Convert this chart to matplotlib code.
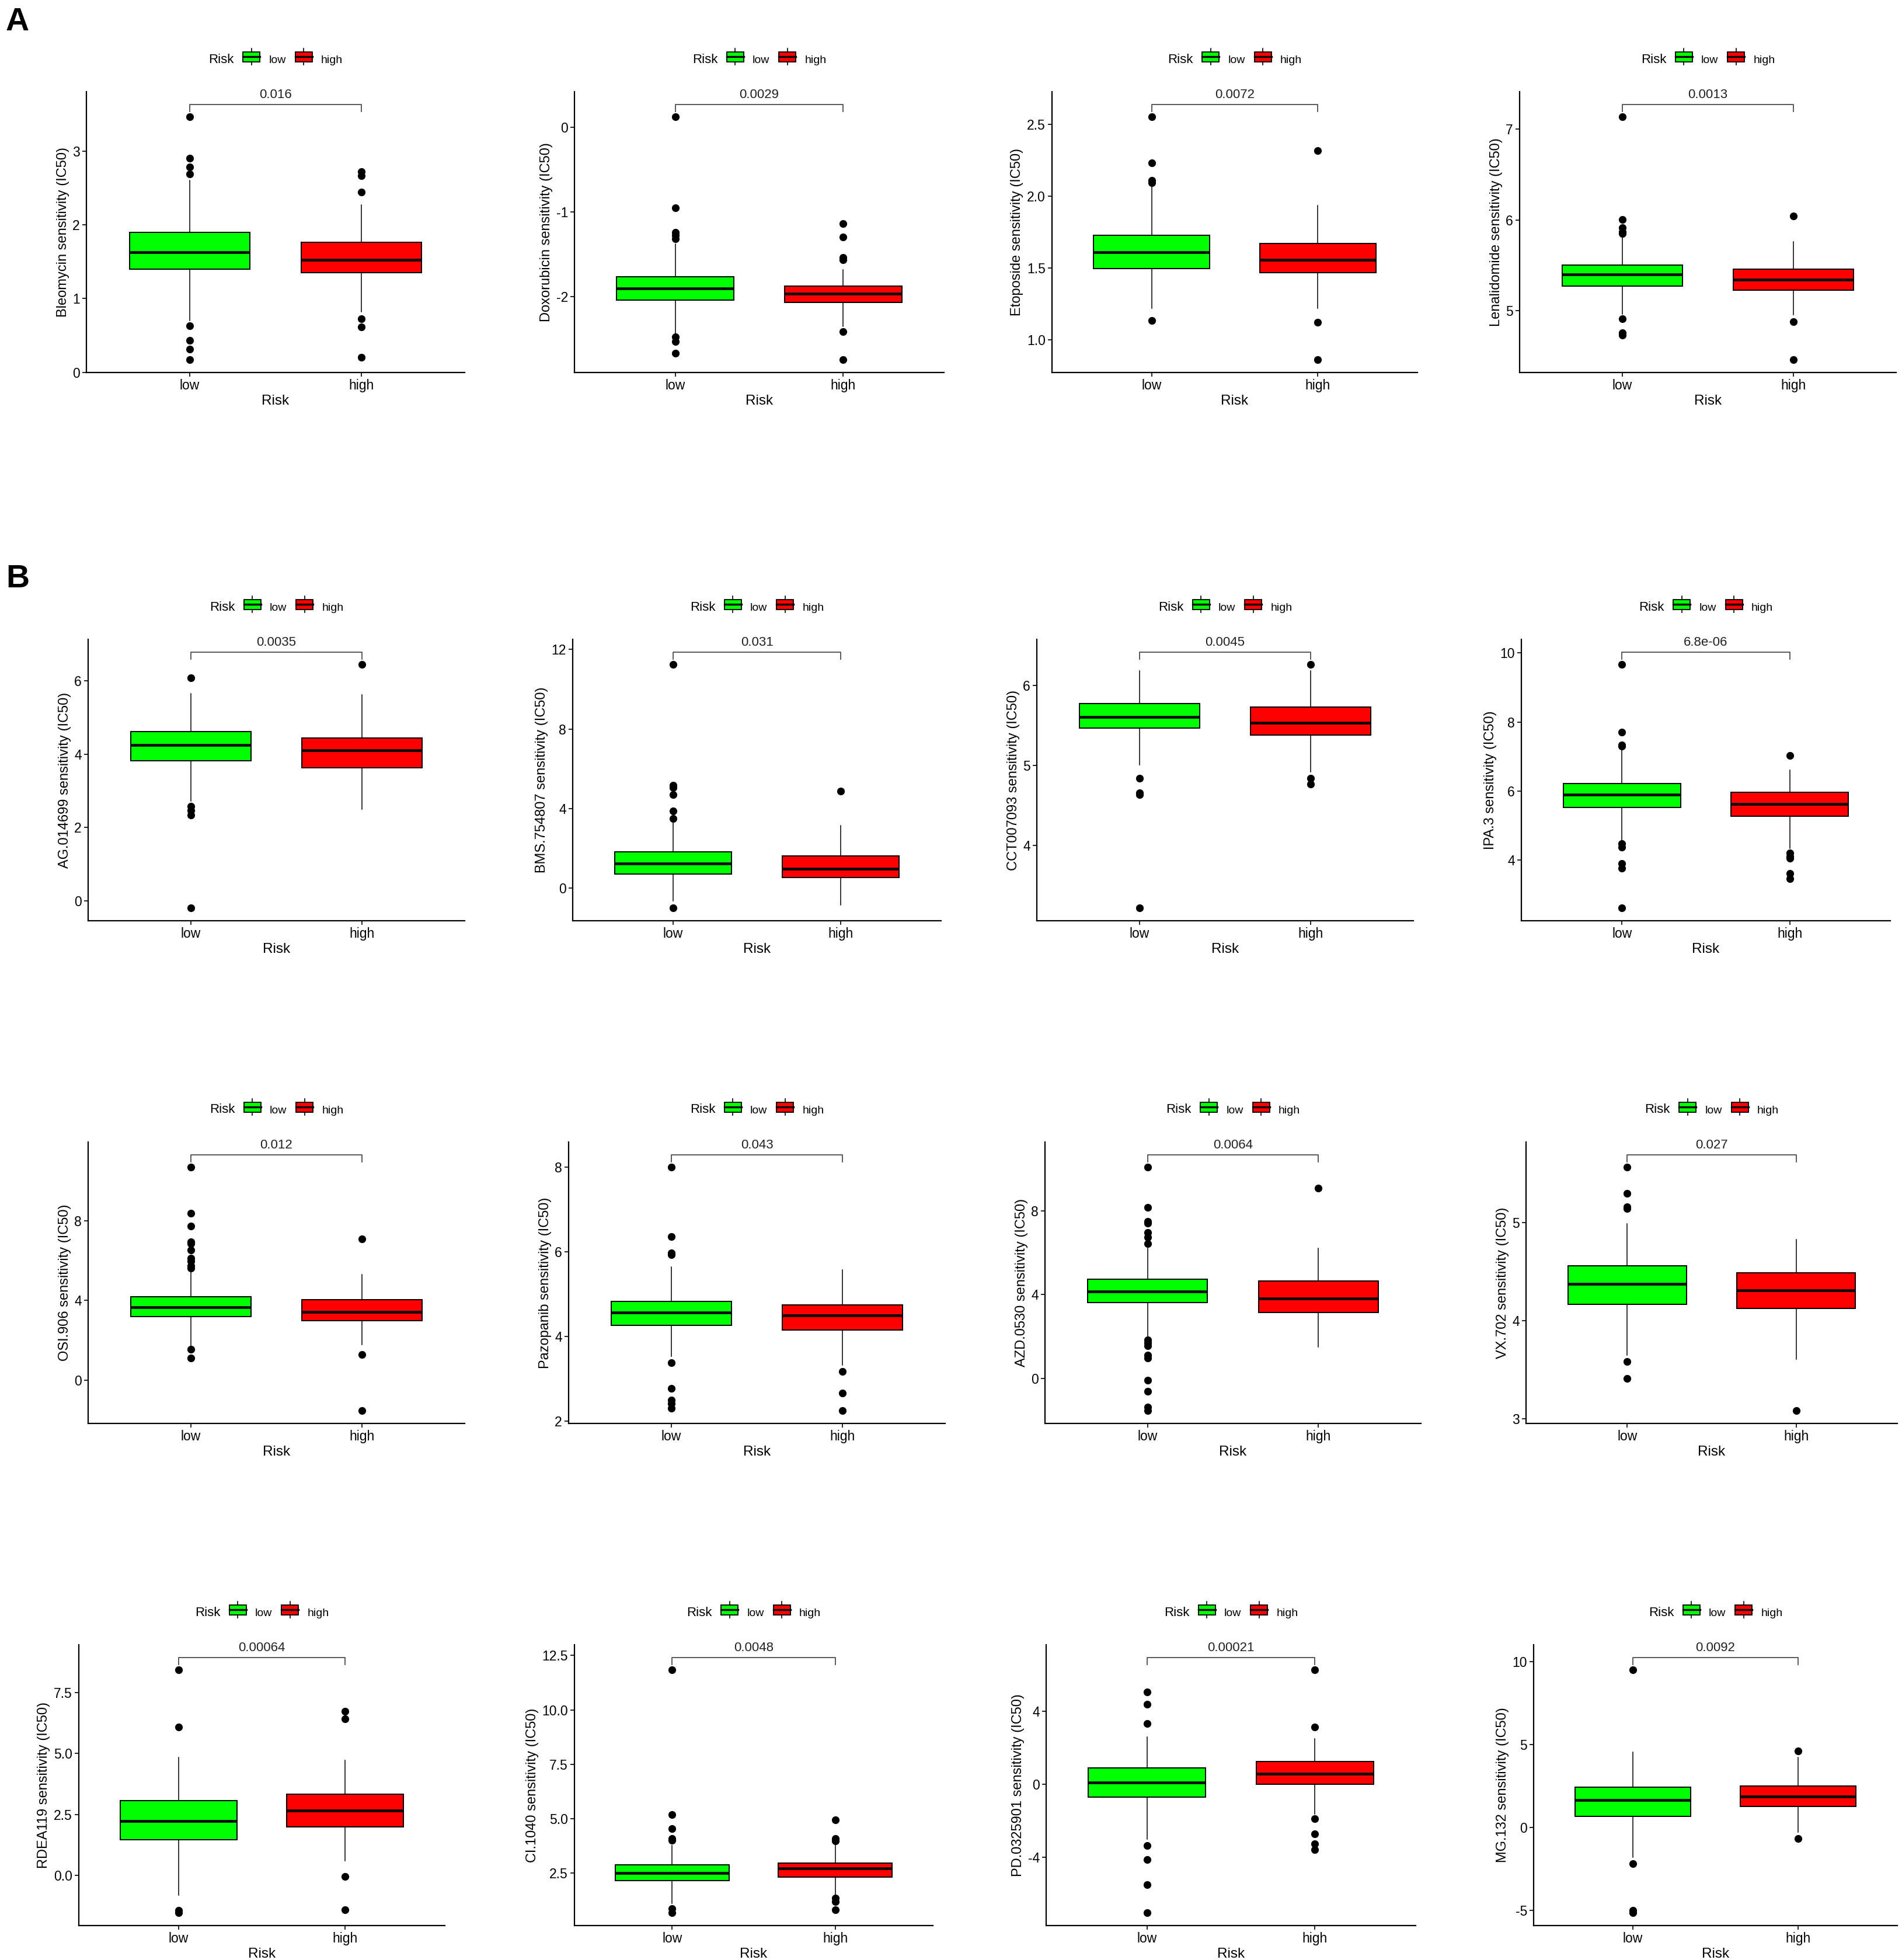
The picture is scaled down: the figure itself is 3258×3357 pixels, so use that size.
import matplotlib
matplotlib.use('Agg')
import matplotlib.pyplot as plt
from matplotlib.patches import Rectangle
from matplotlib.lines import Line2D
from matplotlib.legend_handler import HandlerBase

plt.rcParams['font.family'] = ['Liberation Sans', 'DejaVu Sans']

drugs = ['Bleomycin', 'Doxorubicin', 'Etoposide', 'Lenalidomide',
         'AG.014699', 'BMS.754807', 'CCT007093', 'IPA.3',
         'OSI.906', 'Pazopanib', 'AZD.0530', 'VX.702',
         'RDEA119', 'CI.1040', 'PD.0325901', 'MG.132']
pvals = ['0.016', '0.0029', '0.0072', '0.0013',
         '0.0035', '0.031', '0.0045', '6.8e-06',
         '0.012', '0.043', '0.0064', '0.027',
         '0.00064', '0.0048', '0.00021', '0.0092']
groups = ['low', 'high']
group_colors = ['#00FF00', '#FF0000']

# whisker low, q1, median, q3, whisker high
low_box = [
    [0.70, 1.398, 1.631, 1.897, 2.60],
    [-2.438, -2.038, -1.905, -1.768, -1.381],
    [1.219, 1.496, 1.611, 1.730, 2.075],
    [4.965, 5.275, 5.399, 5.506, 5.837],
    [2.714, 3.821, 4.257, 4.621, 5.657],
    [-0.63, 0.724, 1.25, 1.829, 3.3],
    [5.01, 5.466, 5.607, 5.777, 6.184],
    [4.53, 5.53, 5.902, 6.227, 7.28],
    [1.711, 3.195, 3.648, 4.176, 5.484],
    [3.53, 4.254, 4.568, 4.828, 5.633],
    [1.934, 3.616, 4.156, 4.733, 6.222],
    [3.651, 4.167, 4.374, 4.558, 4.987],
    [-0.804, 1.467, 2.231, 3.075, 4.854],
    [1.113, 2.162, 2.5, 2.895, 3.763],
    [-2.984, -0.685, 0.108, 0.9, 2.594],
    [-1.806, 0.651, 1.629, 2.428, 4.545],
]
high_box = [
    [0.82, 1.354, 1.529, 1.762, 2.27],
    [-2.349, -2.070, -1.968, -1.873, -1.683],
    [1.219, 1.468, 1.556, 1.672, 1.936],
    [4.956, 5.231, 5.343, 5.459, 5.763],
    [2.5, 3.636, 4.1, 4.443, 5.62],
    [-0.83, 0.526, 0.987, 1.63, 3.14],
    [4.918, 5.377, 5.534, 5.731, 6.184],
    [4.34, 5.28, 5.621, 5.97, 6.6],
    [1.774, 2.994, 3.421, 4.05, 5.296],
    [3.325, 4.148, 4.491, 4.746, 5.574],
    [1.49, 3.135, 3.82, 4.637, 6.222],
    [3.605, 4.124, 4.308, 4.487, 4.826],
    [0.603, 1.99, 2.673, 3.327, 4.724],
    [1.452, 2.331, 2.714, 2.962, 3.796],
    [-1.613, 0.0, 0.565, 1.237, 2.487],
    [-0.296, 1.258, 1.851, 2.487, 4.22],
]
low_out = [
    [3.466, 2.898, 2.78, 2.69, 0.633, 0.433, 0.317, 0.171],
    [0.127, -0.949, -1.244, -1.279, -1.317, -2.476, -2.533, -2.670],
    [2.554, 2.230, 2.112, 2.094, 1.135],
    [7.139, 6.006, 5.917, 5.873, 5.852, 4.911, 4.757, 4.734],
    [6.086, 2.571, 2.464, 2.343, -0.193],
    [11.25, 5.18, 5.05, 4.70, 3.88, 3.51, -0.99],
    [4.839, 4.656, 4.633, 3.216],
    [9.667, 7.712, 7.333, 7.30, 4.477, 4.38, 3.909, 3.773, 2.621],
    [10.70, 8.377, 7.723, 6.931, 6.843, 6.516, 6.113, 5.962, 5.736, 5.635, 1.547, 1.119],
    [8.0, 6.355, 5.97, 5.929, 3.373, 2.775, 2.497, 2.408, 2.302],
    [10.10, 8.156, 7.495, 7.4, 6.98, 6.739, 6.438, 1.838, 1.694, 1.538, 1.093, 0.973,
     -0.084, -0.625, -1.393, -1.55],
    [5.567, 5.296, 5.158, 5.14, 3.582, 3.409],
    [8.442, 6.09, -1.427, -1.528],
    [11.846, 5.195, 4.552, 4.101, 4.022, 0.888, 0.685],
    [5.067, 4.368, 3.32, -3.347, -4.126, -5.484, -7.03],
    [9.505, -2.191, -5.004, -5.153],
]
high_out = [
    [2.72, 2.665, 2.44, 0.728, 0.615, 0.207],
    [-1.140, -1.295, -1.54, -1.562, -2.413, -2.746],
    [2.316, 1.125, 0.863],
    [6.044, 4.882, 4.462],
    [6.45],
    [4.87],
    [6.266, 4.839, 4.764],
    [7.03, 4.205, 4.114, 4.053, 3.621, 3.47],
    [7.082, 1.27, -1.535],
    [3.166, 2.663, 2.243],
    [9.081],
    [3.082],
    [6.734, 6.432, -0.04, -1.407],
    [4.946, 4.101, 3.988, 1.362, 1.204, 0.831],
    [6.277, 3.132, -1.882, -2.715, -3.266, -3.562],
    [4.619, -0.666],
]
ytick_labels = [
    ['0', '1', '2', '3'], ['-2', '-1', '0'], ['1.0', '1.5', '2.0', '2.5'], ['5', '6', '7'],
    ['0', '2', '4', '6'], ['0', '4', '8', '12'], ['4', '5', '6'], ['4', '6', '8', '10'],
    ['0', '4', '8'], ['2', '4', '6', '8'], ['0', '4', '8'], ['3', '4', '5'],
    ['0.0', '2.5', '5.0', '7.5'], ['2.5', '5.0', '7.5', '10.0', '12.5'], ['-4', '0', '4'],
    ['-5', '0', '5', '10'],
]

# layout in pixels of the 3258 x 3357 canvas
W, H = 3258, 3357
row_px = [(157, 638), (1095, 1577), (1956, 2438), (2817, 3298)]
col_px = [
    [(148, 796), (984, 1617), (1802, 2428), (2603, 3248)],
    [(151, 796), (981, 1612), (1776, 2421), (2606, 3238)],
    [(151, 796), (974, 1619), (1790, 2434), (2614, 3250)],
    [(135, 762), (984, 1598), (1792, 2425), (2627, 3250)],
]


class BoxKey(HandlerBase):
    # little boxplot glyph like ggplot's legend key
    def create_artists(self, legend, orig_handle, xd, yd, w, h, fontsize, trans):
        cx = xd + w / 2
        box = Rectangle((xd, yd), w, h, facecolor=orig_handle.get_facecolor(),
                        edgecolor='black', lw=1.3, transform=trans)
        med = Line2D([xd, xd + w], [yd + h / 2] * 2, color='black', lw=2.4, transform=trans)
        wlo = Line2D([cx, cx], [yd - h * 0.32, yd], color='black', lw=1.2, transform=trans)
        whi = Line2D([cx, cx], [yd + h, yd + h * 1.32], color='black', lw=1.2, transform=trans)
        return [wlo, whi, box, med]


fig = plt.figure(figsize=(W / 100, H / 100), dpi=100)

for i, drug in enumerate(drugs):
    r, c = divmod(i, 4)
    x0, x1 = col_px[r][c]
    y0, y1 = row_px[r]
    ax = fig.add_axes([x0 / W, 1 - y1 / H, (x1 - x0) / W, (y1 - y0) / H])

    stats = []
    for box, out, name in ((low_box[i], low_out[i], 'low'), (high_box[i], high_out[i], 'high')):
        stats.append(dict(whislo=box[0], q1=box[1], med=box[2], q3=box[3], whishi=box[4],
                          fliers=out, label=name))
    bp = ax.bxp(stats, positions=[1, 2], widths=0.7, patch_artist=True, showcaps=False,
                boxprops=dict(edgecolor='black', linewidth=1.4),
                medianprops=dict(color='black', linewidth=3.3),
                whiskerprops=dict(color='black', linewidth=1.1),
                flierprops=dict(marker='o', markerfacecolor='black', markeredgecolor='black',
                                markersize=8.5))
    for patch, col in zip(bp['boxes'], group_colors):
        patch.set_facecolor(col)

    vals = low_box[i] + high_box[i] + low_out[i] + high_out[i]
    lo, mx = min(vals), max(vals)
    brk = mx + 0.05 * (mx - lo)
    span = brk - lo
    ax.set_ylim(lo - 0.05 * span, brk + 0.05 * span)
    ax.set_xlim(0.4, 2.6)
    yl = ax.get_ylim()
    tip = 0.026 * (yl[1] - yl[0])
    ax.plot([1, 1, 2, 2], [brk - tip, brk, brk, brk - tip], color='#4d4d4d', lw=1.3, clip_on=False)
    ax.text(1.5, brk + 0.012 * (yl[1] - yl[0]), pvals[i], ha='center', va='bottom',
            fontsize=16, color='#222222', clip_on=False)

    ax.set_xticks([1, 2], groups)
    ax.set_yticks([float(t) for t in ytick_labels[i]], ytick_labels[i])
    for s in ('top', 'right'):
        ax.spines[s].set_visible(False)
    for s in ('left', 'bottom'):
        ax.spines[s].set_linewidth(1.6)
    ax.tick_params(length=5, width=1.2, labelsize=16.5, pad=3, colors='black')
    ax.set_ylabel(f'{drug} sensitivity (IC50)', fontsize=17, labelpad=4)
    ax.set_xlabel('Risk', fontsize=17.5, labelpad=3)

    handles = [Rectangle((0, 0), 1, 1, facecolor=col) for col in group_colors]
    leg = ax.legend(handles, groups, title='Risk', ncols=2, loc='center',
                    bbox_to_anchor=(0.5, 1 + 55 / (y1 - y0)), frameon=False,
                    fontsize=14, title_fontsize=16, handlelength=1.49, handleheight=0.98,
                    handletextpad=0.77, columnspacing=0.82, borderpad=0,
                    handler_map={Rectangle: BoxKey()})
    # put the title to the left of the keys
    vbox = leg._legend_box
    title_box, hbox = vbox.get_children()
    vbox._children = [hbox]
    hbox._children.insert(0, title_box)
    hbox.align = 'center'

fig.text(10 / W, 1 - 12 / H, 'A', fontsize=40, fontweight='bold', va='top', ha='left')
fig.text(10 / W, 1 - 966 / H, 'B', fontsize=40, fontweight='bold', va='top', ha='left')

fig.savefig('out.png', dpi=100)
